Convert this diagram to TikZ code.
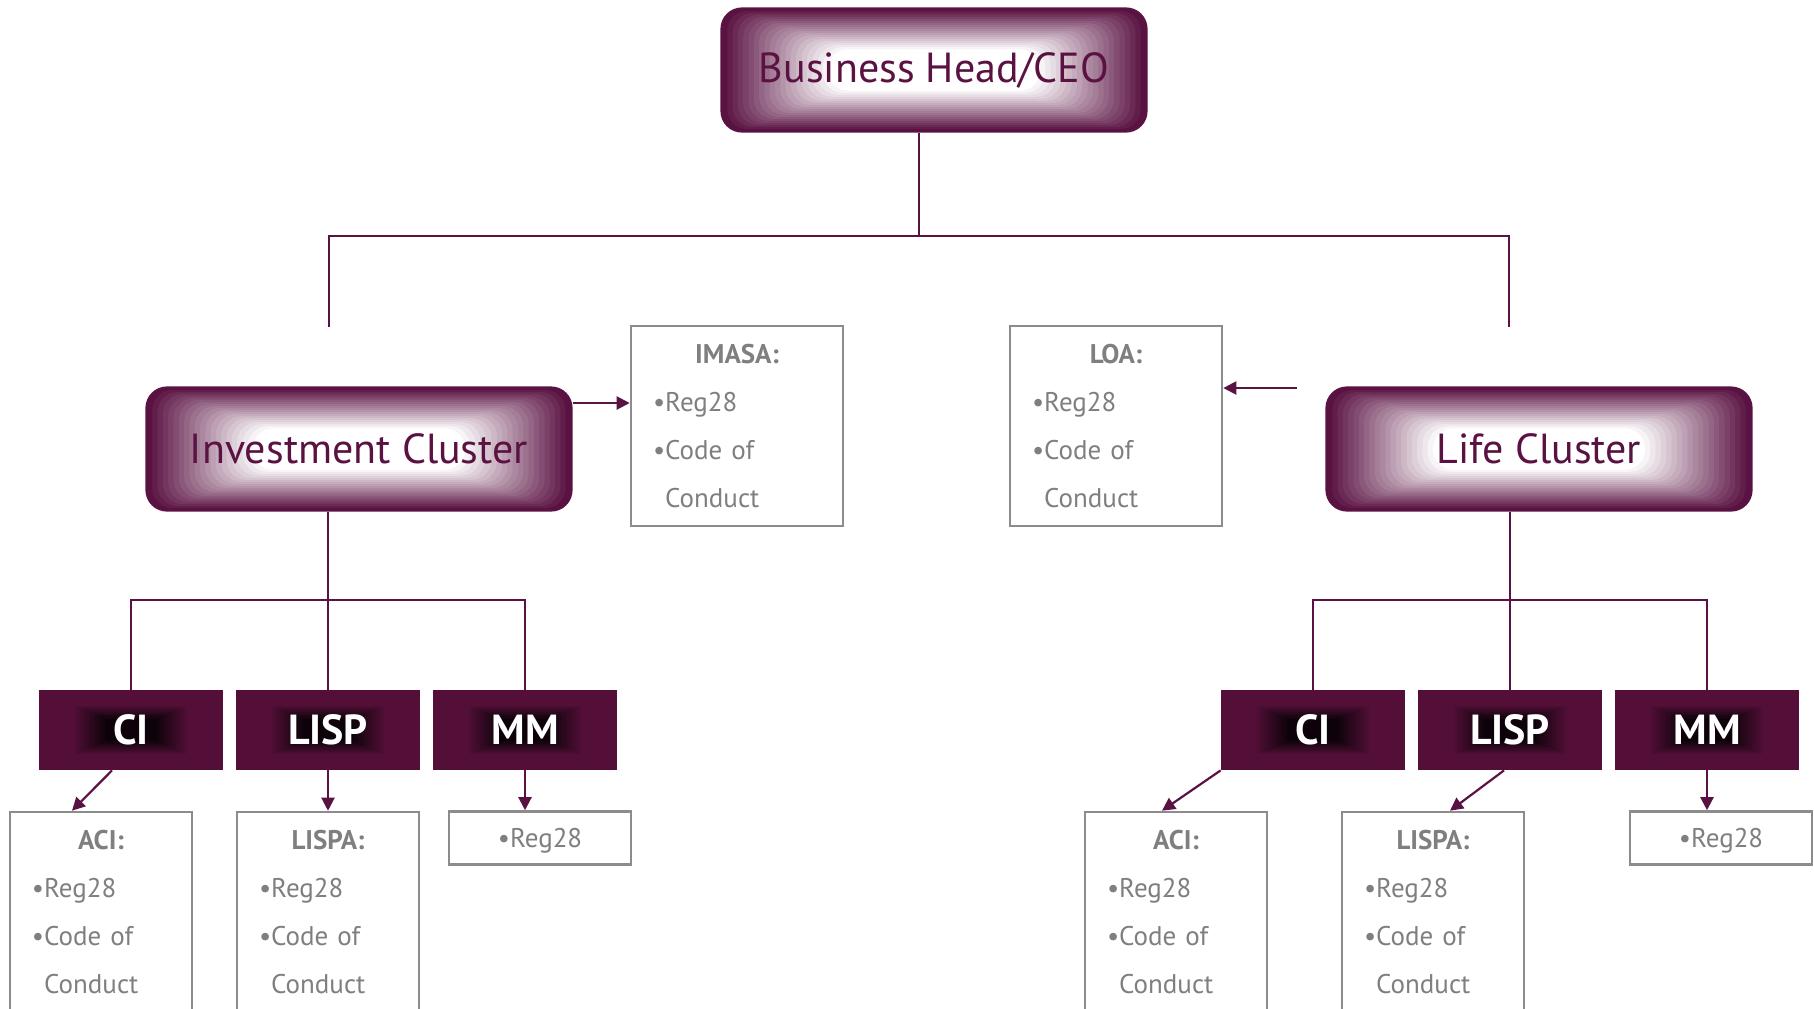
\documentclass[tikz,border=0pt]{standalone}
\usepackage{fontspec}
\setmainfont{PT Sans}
\usepackage{tikz}
\usetikzlibrary{positioning, calc, arrows.meta}

\definecolor{maroon}{HTML}{5A1242}
\definecolor{subred}{HTML}{530F38}
\definecolor{rulegrey}{HTML}{8C8C8C}
\definecolor{textgrey}{HTML}{7F7F7F}

\newcommand{\rulelist}[1]{\makebox[\linewidth][c]{\textbf{#1}}\\\textbullet Reg28\\\textbullet Code of\\\phantom{\textbullet}Conduct}

\tikzset{
  headbox/.style={draw=maroon, line width=1.6pt, rounded corners=10pt, fill=maroon,
    minimum width=212pt, minimum height=61pt, text=maroon, font=\fontsize{21}{24}\selectfont,
    path picture={
      \foreach \k in {0,...,20}{
        \pgfmathsetmacro\pc{100-5*\k}
        \fill[maroon!\pc!white] let \p1=(path picture bounding box.south west), \p2=(path picture bounding box.north east) in
          ({\x1+\k*0.0125*(\x2-\x1)},{\y1+\k*0.0165*(\y2-\y1)}) rectangle ({\x2-\k*0.0125*(\x2-\x1)},{\y2-\k*0.0165*(\y2-\y1)});
      }}},
  unitbox/.style={fill=subred, minimum width=92pt, minimum height=40pt, inner sep=0pt,
    text=white, font=\fontsize{21}{24}\selectfont\bfseries,
    path picture={
      \foreach \k in {0,...,12}{
        \pgfmathsetmacro\pc{100-7*\k}
        \fill[subred!\pc!black] ($(path picture bounding box.south west)!{0.18+\k*0.015}!(path picture bounding box.north east)$) rectangle ($(path picture bounding box.north east)!{0.18+\k*0.015}!(path picture bounding box.south west)$);
      }}},
  rulebox/.style={draw=rulegrey, line width=1.3pt, fill=white, minimum height=100pt,
    inner xsep=11pt, align=left, text=textgrey, font=\fontsize{13.5}{24}\selectfont},
  regbox/.style={draw=rulegrey, line width=1.3pt, fill=white, minimum width=91pt, minimum height=26.5pt,
    text=textgrey, font=\fontsize{13.5}{16}\selectfont},
  conn/.style={draw=maroon, line width=1.1pt},
  arr/.style={conn, -{Triangle[length=6.5pt, width=6.5pt]}},
}

\begin{document}
\begin{tikzpicture}[x=0.5pt, y=-0.5pt]
  \useasboundingbox (0,0) rectangle (1814,1008);
  \clip (0,0) rectangle (1814,1008);

  % top level
  \node[headbox] (ceo) at (934,70) {Business Head/CEO};
  \node[headbox] (inv) at (359,449) {Investment Cluster};
  \node[headbox] (life) at (1539,449) {Life Cluster};

  % regulation boxes of the clusters
  \node[rulebox, text width=84pt] (imasa) at (737,426) {\rulelist{IMASA:}};
  \node[rulebox, text width=84pt] (loa) at (1116,426) {\rulelist{LOA:}};

  % units
  \node[unitbox] (ici) at (131,730) {CI};
  \node[unitbox] (ilisp) at (328,730) {LISP};
  \node[unitbox] (imm) at (525,730) {MM};
  \node[unitbox] (rci) at (1313,730) {CI};
  \node[unitbox] (rlisp) at (1510,730) {LISP};
  \node[unitbox] (rmm) at (1707,730) {MM};

  % regulation boxes of the units
  \node[rulebox, text width=69pt] (iaci) at (101,912) {\rulelist{ACI:}};
  \node[rulebox, text width=69pt] (ilispa) at (328,912) {\rulelist{LISPA:}};
  \node[regbox, text depth=0pt] (ireg) at (540,838) {\textbullet Reg28};
  \node[rulebox, text width=69pt] (raci) at (1176,912) {\rulelist{ACI:}};
  \node[rulebox, text width=69pt] (rlispa) at (1433,912) {\rulelist{LISPA:}};
  \node[regbox, text depth=0pt] (rreg) at (1721,838) {\textbullet Reg28};

  \coordinate (ceojoin) at (919,236);
  \coordinate (invtop) at (329,327);
  \coordinate (lifetop) at (1509,327);
  \coordinate (ibus) at (329,600);
  \coordinate (rbus) at (1509,600);
  \coordinate (imasaarr) at (631,403);
  \coordinate (loafrom) at (1297,388);

  % tree
  \draw[conn] (ceo.south -| ceojoin) -- (ceojoin);
  \draw[conn] (invtop) |- (ceojoin) -| (lifetop);
  \draw[conn] (inv.south -| ilisp.north) -- (ilisp.north);
  \draw[conn] (ici.north) |- (ibus) -| (imm.north);
  \draw[conn] (life.south -| rlisp.north) -- (rlisp.north);
  \draw[conn] (rci.north) |- (rbus) -| (rmm.north);

  % arrows to the regulations
  \draw[arr] (inv.east |- imasaarr) -- (imasa.west |- imasaarr);
  \draw[arr] (loafrom) -- (loa.east |- loafrom);
  \draw[arr] ($(ici.south)+(-19,0)$) -- ($(iaci.north)+(-29,0)$);
  \draw[arr] (ilisp.south) -- (ilispa.north);
  \draw[arr] (imm.south) -- (imm.south |- ireg.north);
  \draw[arr] (rci.south west) -- ($(raci.north)+(-14,0)$);
  \draw[arr] ($(rlisp.south)+(-6,0)$) -- ($(rlispa.north)+(17,0)$);
  \draw[arr] (rmm.south) -- (rmm.south |- rreg.north);
\end{tikzpicture}
\end{document}
